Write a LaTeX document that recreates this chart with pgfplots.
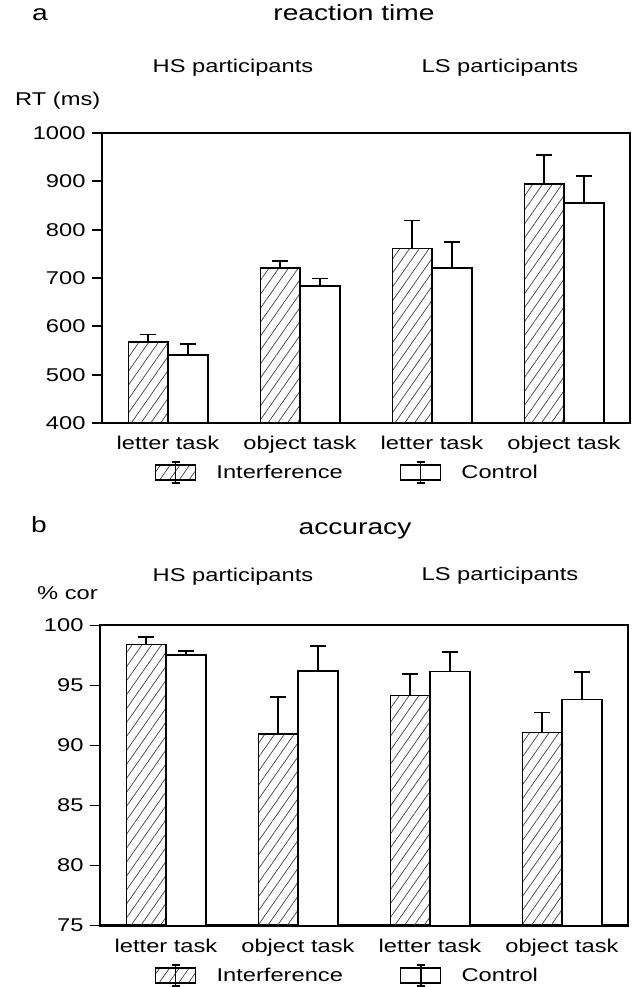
\documentclass[border=0pt]{standalone}
\usepackage{fontspec}
\setmainfont{Liberation Sans}[FakeStretch=1.28]
\usepackage{pgfplots}
\usepackage{pgfplotstable}
\pgfplotsset{compat=1.18}
\usetikzlibrary{patterns.meta}

\newcommand{\mainsz}{\fontsize{18.5bp}{22bp}\selectfont}
\newcommand{\titlesz}{\fontsize{22bp}{26bp}\selectfont}

% reaction time (ms): group, interference, error, control, error
\pgfplotstableread{
x int interr con conerr
0 568 15 540 23
1 720 15 683 16
2 761 58 721 53
3 894 60 855 56
}\rttable

% accuracy (% correct)
\pgfplotstableread{
x int interr con conerr
0 98.42 0.61 97.56 0.30
1 90.97 3.09 96.19 2.09
2 94.17 1.77 96.17 1.63
3 91.08 1.67 93.83 2.31
}\acctable

\pgfplotsset{
  panel/.style={
    scale only axis, anchor=south west,
    width=528bp,
    xmin=-0.5, xmax=3.5,
    ybar=0pt, bar width=0.3,
    xtick={0,1,2,3},
    xticklabels={letter task, object task, letter task, object task},
    xtick style={draw=none},
    ytick pos=left,
    tick align=outside,
    major tick length=10bp,
    ytick style={line width=1.8bp, black},
    axis line style={line width=2bp},
    tick label style={font=\mainsz},
    yticklabel style={xshift=-3bp},
    /pgf/number format/assume math mode=true,
    /pgf/number format/1000 sep={},
    legend columns=2,
    legend style={draw=none, fill=none, anchor=west, font=\mainsz,
      nodes={inner sep=0pt},
      /tikz/every even column/.append style={column sep=57bp}},
  },
  barlegend/.style={
    legend image code/.code={
      \draw[##1, line width=1.5bp] (0bp,-7.5bp) rectangle (40bp,7.5bp);
      \draw[black, line width=1.6bp] (20bp,-10.5bp) -- (20bp,10.5bp)
        (16bp,-10.5bp) -- (24bp,-10.5bp) (16bp,10.5bp) -- (24bp,10.5bp);
      \path (60bp,0bp);
    }
  },
  errs/.style={
    error bars/.cd, y dir=plus, y explicit,
    error bar style={line width=1.8bp, black},
    error mark options={rotate=90, line width=1.8bp, mark size=8bp, black}
  },
  intbar/.style={draw=black, line width=1.8bp,
    pattern={Lines[angle=55, distance=8bp, line width=0.7bp]},
    pattern color=black!75, barlegend, errs},
  conbar/.style={draw=black, line width=1.8bp, fill=white, barlegend, errs},
}

\begin{document}
\begin{tikzpicture}
\path[use as bounding box] (0,0) rectangle (632bp,987bp);

% panel a
\node[font=\titlesz, anchor=mid] at (40bp,969bp) {a};
\node[font=\titlesz, anchor=mid] at (354bp,969bp) {reaction time};
\node[font=\mainsz, anchor=mid] at (233bp,917bp) {HS participants};
\node[font=\mainsz, anchor=mid] at (500bp,917bp) {LS participants};
\node[font=\mainsz, anchor=mid west, inner sep=0pt] at (15bp,884bp) {RT (ms)};

\begin{axis}[panel, at={(102bp,564bp)}, height=290bp,
    ymin=400, ymax=1000, ytick={400,500,...,1000},
    legend style={at={(0.094,-0.1707)}}]
  \addplot[intbar] table[x=x, y=int, y error=interr] {\rttable};
  \addlegendentry{Interference}
  \addplot[conbar] table[x=x, y=con, y error=conerr] {\rttable};
  \addlegendentry{Control}
\end{axis}

% panel b
\node[font=\titlesz, anchor=mid] at (39bp,457bp) {b};
\node[font=\titlesz, anchor=mid] at (355bp,455bp) {accuracy};
\node[font=\mainsz, anchor=mid] at (233bp,408.5bp) {HS participants};
\node[font=\mainsz, anchor=mid] at (500bp,409bp) {LS participants};
\node[font=\mainsz, anchor=mid west, inner sep=0pt] at (37bp,390bp) {\% cor};

\begin{axis}[panel, at={(100bp,61.5bp)}, height=300bp,
    ymin=75, ymax=100, ytick={75,80,...,100},
    legend style={at={(0.098,-0.1667)}}]
  \addplot[intbar] table[x=x, y=int, y error=interr] {\acctable};
  \addlegendentry{Interference}
  \addplot[conbar] table[x=x, y=con, y error=conerr] {\acctable};
  \addlegendentry{Control}
\end{axis}
\end{tikzpicture}
\end{document}
